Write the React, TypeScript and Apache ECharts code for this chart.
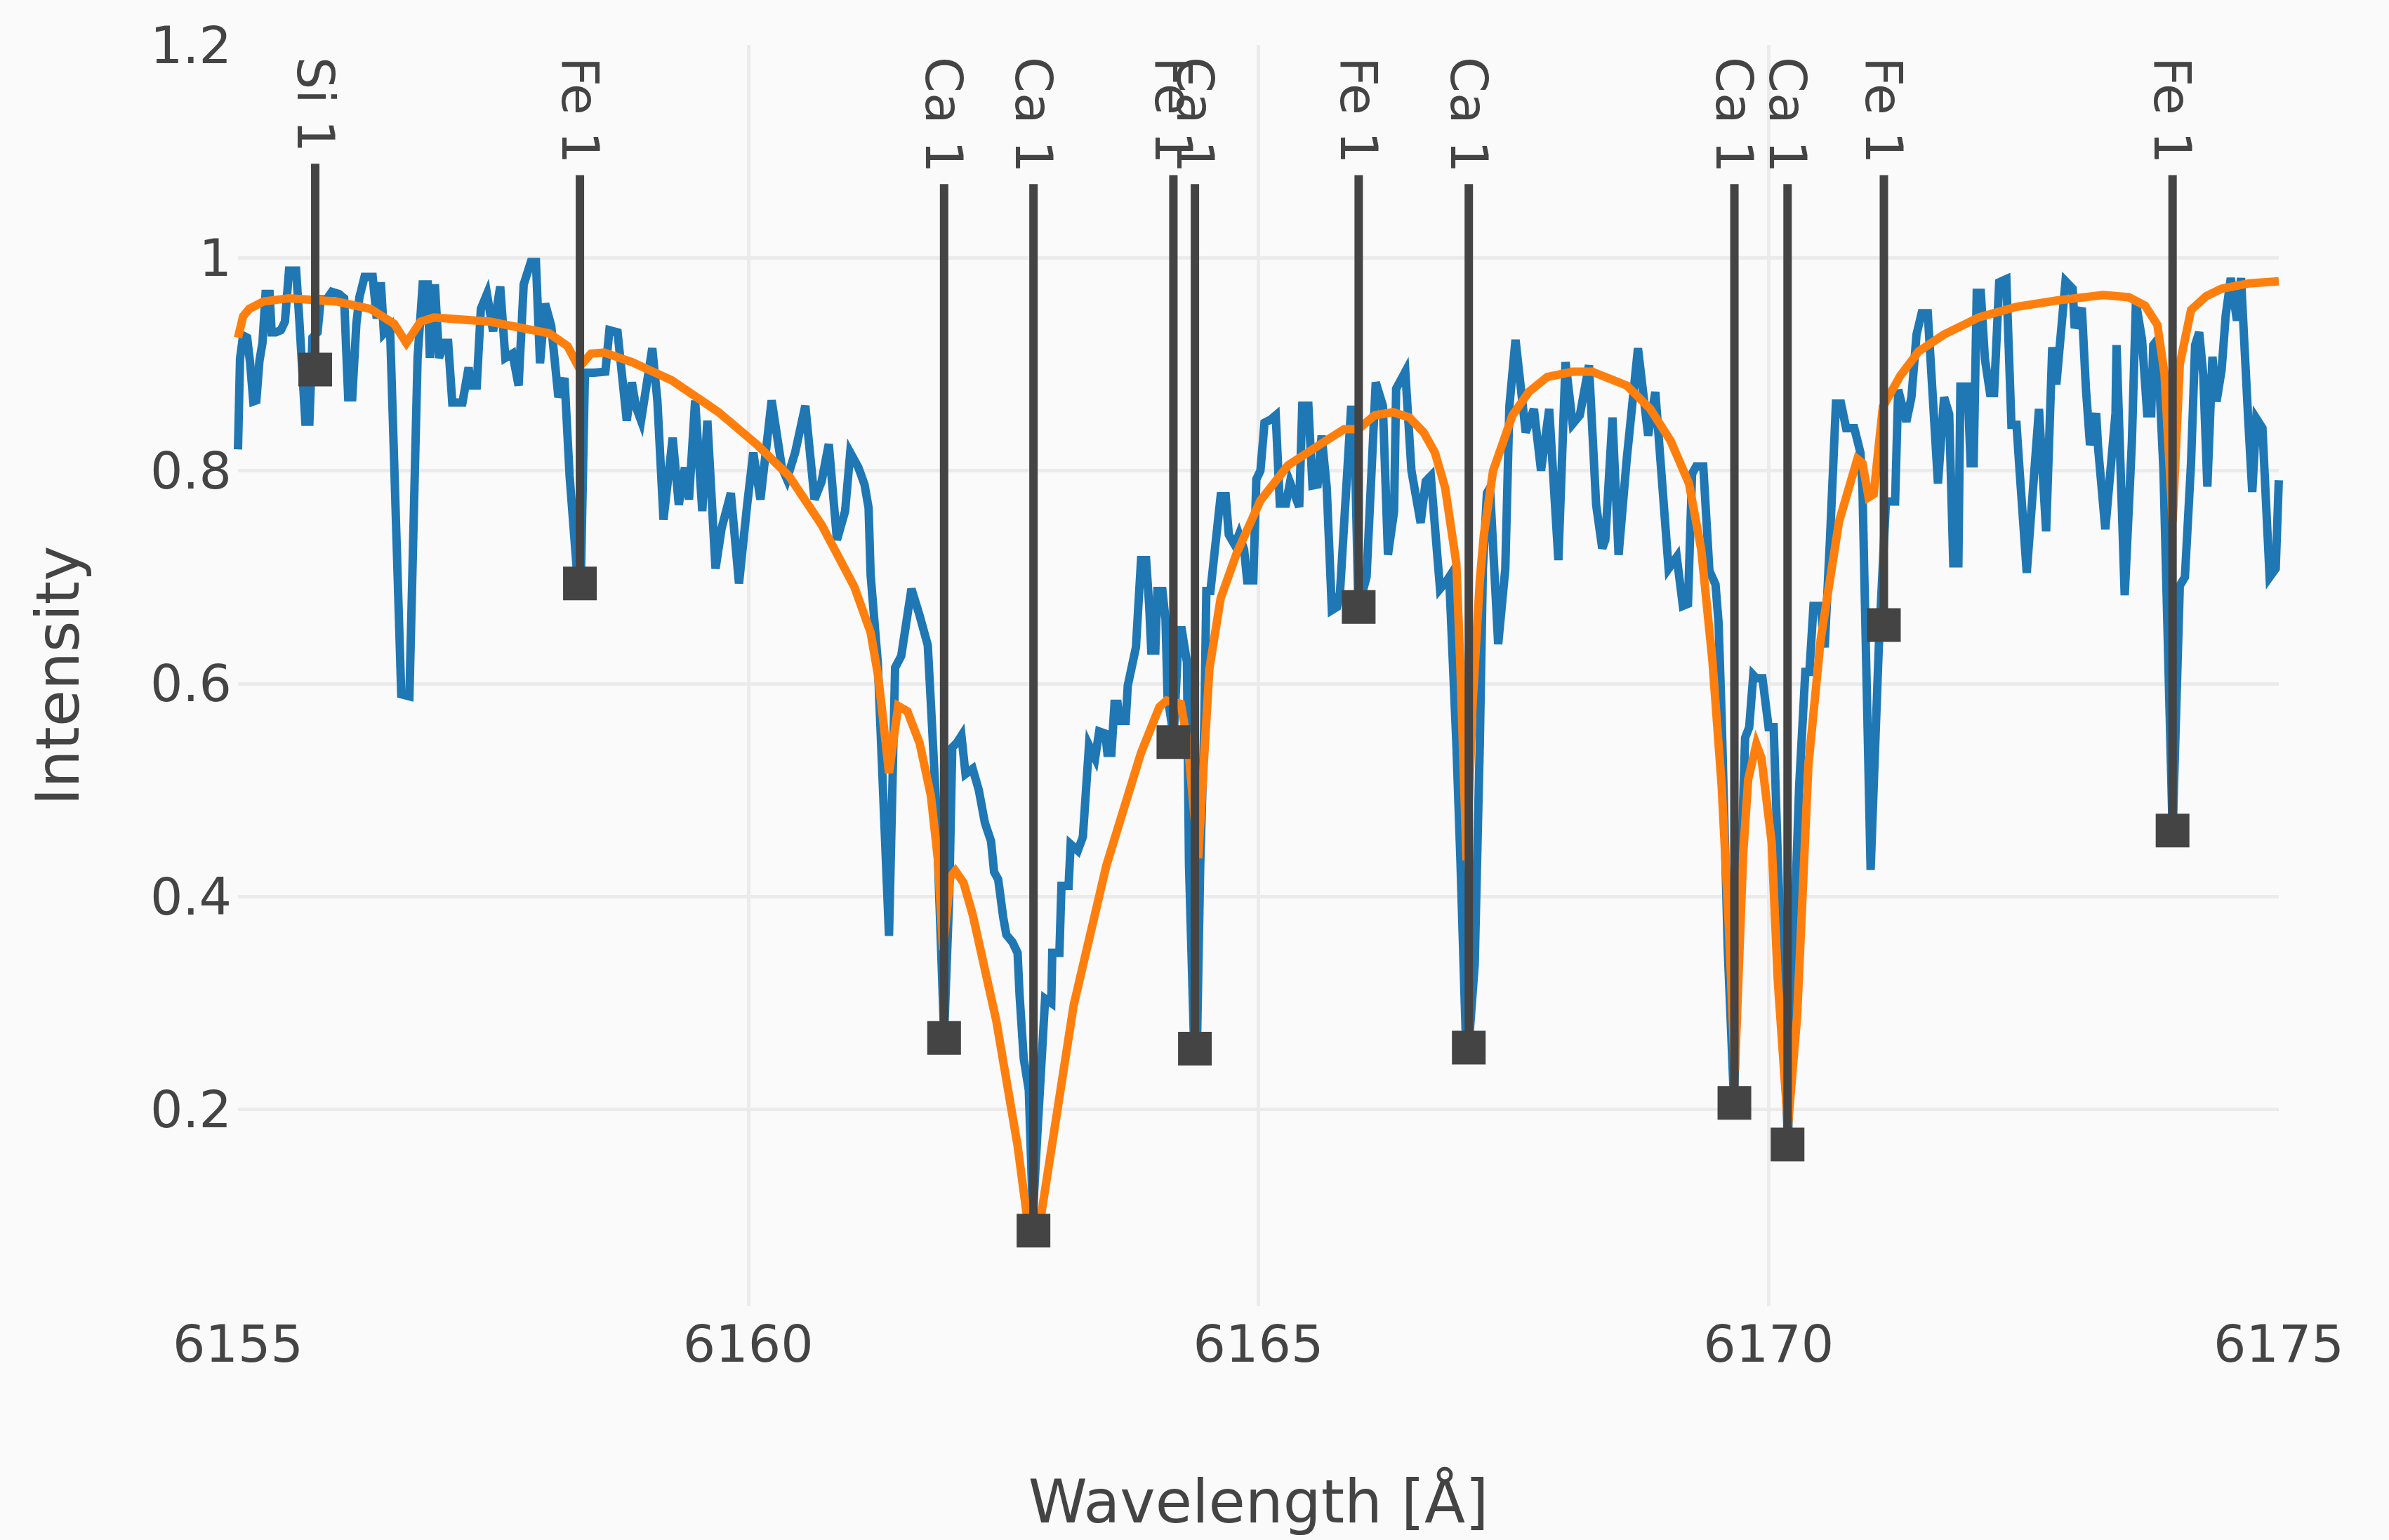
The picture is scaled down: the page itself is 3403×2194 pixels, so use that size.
import React, { useEffect, useRef } from "react";
import * as echarts from "echarts";

// Observed spectrum (wavelength in Å, normalised intensity)
const observedSpectrum: [number, number][] = [
  [6155.00,0.82],[6155.02,0.905],[6155.05,0.927],[6155.09,0.925],[6155.12,0.90],[6155.15,0.865],[6155.18,0.866],[6155.21,0.903],[6155.24,0.92],[6155.27,0.966],[6155.31,0.966],[6155.33,0.93],[6155.37,0.93],[6155.42,0.932],[6155.46,0.94],[6155.50,0.988],[6155.57,0.988],[6155.60,0.943],[6155.66,0.846],[6155.70,0.846],[6155.73,0.925],[6155.78,0.93],[6155.81,0.961],[6155.87,0.961],[6155.92,0.968],[6155.99,0.966],[6156.04,0.962],[6156.08,0.869],[6156.12,0.869],[6156.16,0.938],[6156.19,0.963],[6156.24,0.982],[6156.32,0.982],[6156.36,0.943],[6156.40,0.977],[6156.43,0.929],[6156.49,0.935],[6156.60,0.59],[6156.68,0.588],[6156.76,0.906],[6156.81,0.975],[6156.86,0.975],[6156.88,0.906],[6156.93,0.975],[6156.97,0.906],[6157.02,0.92],[6157.06,0.92],[6157.10,0.864],[6157.20,0.864],[6157.26,0.897],[6157.28,0.88],[6157.34,0.88],[6157.38,0.952],[6157.44,0.966],[6157.50,0.931],[6157.57,0.973],[6157.62,0.906],[6157.69,0.91],[6157.75,0.88],[6157.80,0.975],[6157.87,0.996],[6157.92,0.996],[6157.96,0.901],[6158.01,0.957],[6158.07,0.936],[6158.14,0.869],[6158.20,0.887],[6158.22,0.85],[6158.25,0.795],[6158.33,0.695],[6158.36,0.695],[6158.40,0.892],[6158.49,0.892],
  [6158.60,0.893],[6158.64,0.932],[6158.72,0.93],[6158.81,0.847],[6158.86,0.883],[6158.90,0.86],[6158.95,0.847],[6159.06,0.915],[6159.11,0.866],[6159.17,0.754],[6159.26,0.831],[6159.32,0.768],[6159.38,0.803],[6159.42,0.773],[6159.48,0.866],[6159.55,0.762],[6159.60,0.847],[6159.68,0.708],[6159.74,0.746],[6159.83,0.779],[6159.91,0.694],[6159.99,0.768],[6160.05,0.817],[6160.12,0.773],[6160.23,0.866],[6160.33,0.803],[6160.38,0.792],[6160.46,0.817],[6160.56,0.861],[6160.65,0.773],[6160.72,0.79],[6160.79,0.825],[6160.87,0.735],[6160.95,0.762],[6161.00,0.817],[6161.08,0.803],[6161.14,0.787],[6161.18,0.765],[6161.20,0.702],[6161.27,0.62],[6161.38,0.363],[6161.44,0.615],[6161.50,0.626],[6161.60,0.689],[6161.68,0.664],[6161.76,0.636],[6161.79,0.582],[6161.84,0.489],[6161.92,0.27],
  [6161.97,0.40],[6162.00,0.54],[6162.05,0.545],[6162.09,0.551],[6162.13,0.515],[6162.20,0.52],[6162.26,0.50],[6162.32,0.469],[6162.38,0.452],[6162.41,0.423],[6162.45,0.416],[6162.50,0.38],[6162.53,0.364],[6162.59,0.357],[6162.64,0.347],[6162.66,0.307],[6162.70,0.248],[6162.75,0.218],[6162.79,0.10],[6162.83,0.17],[6162.91,0.304],[6162.97,0.30],[6162.98,0.347],[6163.05,0.347],[6163.07,0.41],[6163.14,0.41],[6163.16,0.449],[6163.23,0.443],[6163.28,0.456],[6163.31,0.499],[6163.34,0.542],[6163.40,0.53],[6163.44,0.555],[6163.50,0.553],[6163.52,0.535],[6163.56,0.535],[6163.59,0.581],[6163.62,0.581],[6163.64,0.565],[6163.70,0.565],[6163.72,0.598],[6163.80,0.634],[6163.85,0.716],[6163.90,0.716],[6163.93,0.673],[6163.95,0.631],[6163.99,0.631],[6164.01,0.687],[6164.06,0.687],[6164.09,0.66],[6164.11,0.588],[6164.17,0.55],[6164.22,0.65],[6164.25,0.65],[6164.30,0.62],[6164.32,0.43],[6164.37,0.26],[6164.40,0.27],[6164.43,0.43],[6164.47,0.561],[6164.49,0.687],[6164.53,0.687],[6164.63,0.776],[6164.68,0.776],[6164.71,0.74],[6164.77,0.73],[6164.81,0.74],[6164.86,0.726],[6164.89,0.697],[6164.95,0.697],[6164.98,0.792],[6165.02,0.80],[6165.06,0.845],[6165.12,0.848],[6165.17,0.852],[6165.21,0.769],[6165.27,0.769],[6165.31,0.789],[6165.40,0.766],[6165.43,0.861],[6165.49,0.861],[6165.53,0.786],[6165.58,0.787],
  [6165.62,0.833],[6165.67,0.784],[6165.72,0.669],[6165.77,0.672],[6165.80,0.686],[6165.91,0.861],[6165.95,0.80],[6165.98,0.672],[6166.06,0.70],[6166.15,0.883],[6166.22,0.861],[6166.27,0.721],[6166.33,0.762],[6166.35,0.877],[6166.44,0.893],[6166.50,0.80],[6166.59,0.751],[6166.64,0.79],[6166.69,0.795],[6166.78,0.689],[6166.85,0.697],[6166.87,0.70],[6166.94,0.544],[6166.98,0.434],[6167.03,0.276],[6167.06,0.258],[6167.12,0.336],[6167.17,0.544],[6167.20,0.708],[6167.24,0.779],[6167.27,0.784],[6167.35,0.637],[6167.42,0.708],[6167.46,0.861],[6167.52,0.923],[6167.62,0.836],[6167.70,0.858],[6167.77,0.80],[6167.85,0.858],[6167.94,0.716],[6168.01,0.902],[6168.08,0.844],[6168.15,0.852],[6168.24,0.899],[6168.31,0.768],[6168.37,0.727],[6168.40,0.735],[6168.47,0.85],[6168.53,0.721],[6168.61,0.811],[6168.72,0.915],[6168.82,0.833],[6168.89,0.874],[6169.02,0.708],
  [6169.10,0.719],[6169.16,0.673],[6169.21,0.675],[6169.25,0.797],[6169.29,0.804],[6169.36,0.804],[6169.42,0.706],[6169.48,0.693],[6169.51,0.657],[6169.54,0.569],[6169.60,0.35],[6169.66,0.21],[6169.69,0.30],[6169.77,0.549],[6169.81,0.559],[6169.85,0.608],[6169.88,0.605],[6169.94,0.605],[6170.00,0.559],[6170.05,0.559],[6170.09,0.438],[6170.16,0.242],[6170.19,0.17],[6170.23,0.308],[6170.30,0.504],[6170.36,0.611],[6170.40,0.611],[6170.44,0.673],[6170.51,0.673],[6170.55,0.634],[6170.60,0.732],[6170.66,0.863],[6170.71,0.863],[6170.76,0.84],[6170.84,0.84],[6170.90,0.817],[6170.92,0.784],[6171.00,0.425],[6171.08,0.634],[6171.15,0.771],[6171.24,0.771],[6171.27,0.876],[6171.35,0.846],[6171.40,0.869],[6171.45,0.928],[6171.50,0.948],[6171.56,0.948],[6171.66,0.788],[6171.72,0.869],[6171.77,0.853],[6171.81,0.713],[6171.86,0.713],[6171.88,0.879],[6171.95,0.879],[6171.98,0.807],[6172.01,0.807],[6172.04,0.967],[6172.08,0.967],[6172.12,0.905],[6172.17,0.873],[6172.21,0.873],[6172.26,0.977],[6172.33,0.98],[6172.38,0.843],[6172.43,0.843],[6172.46,0.80],
  [6172.53,0.704],[6172.65,0.858],[6172.72,0.743],[6172.78,0.916],[6172.82,0.881],[6172.91,0.978],[6172.98,0.971],[6173.00,0.934],[6173.07,0.953],[6173.11,0.877],[6173.15,0.824],[6173.21,0.854],[6173.23,0.821],[6173.30,0.745],[6173.40,0.854],[6173.41,0.918],[6173.49,0.683],[6173.56,0.826],[6173.60,0.958],[6173.66,0.923],[6173.71,0.854],[6173.75,0.854],[6173.77,0.918],[6173.81,0.923],[6173.87,0.80],[6173.96,0.46],[6174.03,0.692],[6174.08,0.70],[6174.14,0.807],[6174.18,0.918],[6174.22,0.93],[6174.26,0.89],[6174.30,0.785],[6174.35,0.907],[6174.39,0.865],[6174.44,0.895],[6174.48,0.946],[6174.53,0.981],[6174.59,0.941],[6174.63,0.981],[6174.70,0.849],[6174.74,0.78],[6174.78,0.849],[6174.84,0.84],[6174.91,0.70],[6174.97,0.708],[6175.00,0.791],
];

// Synthetic model spectrum
const modelSpectrum: [number, number][] = [
  [6155.00,0.925],[6155.05,0.945],[6155.11,0.952],[6155.25,0.959],[6155.50,0.962],[6155.96,0.959],[6156.30,0.952],[6156.53,0.938],[6156.65,0.92],[6156.79,0.94],[6156.92,0.944],[6157.47,0.94],[6158.05,0.929],[6158.23,0.917],[6158.34,0.897],[6158.46,0.91],[6158.59,0.911],[6158.86,0.902],[6159.25,0.885],[6159.71,0.855],[6160.08,0.825],[6160.40,0.795],[6160.72,0.749],[6161.04,0.691],[6161.20,0.648],[6161.27,0.609],[6161.31,0.577],[6161.38,0.516],[6161.47,0.579],[6161.56,0.574],[6161.68,0.544],[6161.79,0.495],[6161.86,0.434],[6161.91,0.35],[6161.98,0.418],[6162.03,0.424],[6162.11,0.413],[6162.20,0.383],[6162.43,0.284],[6162.64,0.166],[6162.77,0.072],[6162.87,0.10],[6163.19,0.298],[6163.51,0.429],[6163.85,0.535],[6164.03,0.578],[6164.10,0.584],[6164.24,0.581],[6164.31,0.542],[6164.41,0.436],[6164.52,0.614],[6164.63,0.68],[6164.79,0.723],[6165.02,0.772],[6165.29,0.805],[6165.61,0.825],[6165.84,0.839],[6165.98,0.839],[6166.14,0.852],[6166.32,0.855],[6166.48,0.85],[6166.62,0.836],[6166.73,0.817],[6166.83,0.784],[6166.94,0.713],[6166.98,0.615],[6167.04,0.434],[6167.10,0.582],[6167.17,0.697],[6167.21,0.74],[6167.30,0.80],[6167.49,0.852],[6167.65,0.874],[6167.83,0.888],[6168.08,0.893],[6168.27,0.893],[6168.61,0.88],[6168.84,0.858],[6169.04,0.828],[6169.22,0.788],[6169.34,0.726],[6169.45,0.621],[6169.54,0.504],[6169.61,0.373],[6169.67,0.236],[6169.75,0.438],[6169.80,0.51],[6169.88,0.543],[6169.93,0.53],[6170.03,0.451],[6170.09,0.321],[6170.19,0.184],[6170.28,0.288],[6170.39,0.523],[6170.51,0.641],[6170.69,0.752],[6170.87,0.811],[6170.92,0.807],[6170.98,0.775],[6171.03,0.778],[6171.12,0.86],[6171.29,0.889],[6171.47,0.912],[6171.72,0.928],[6172.06,0.944],[6172.43,0.954],[6172.83,0.96],[6173.28,0.965],[6173.53,0.963],[6173.69,0.955],[6173.81,0.937],[6173.88,0.891],[6173.96,0.752],[6174.03,0.90],[6174.14,0.951],[6174.29,0.964],[6174.44,0.971],[6174.71,0.976],[6175.00,0.978],
];

// Identified lines
const lineWavelengths = [6155.757, 6158.351, 6161.920, 6162.796, 6164.167, 6164.378, 6165.983, 6167.062, 6169.665, 6170.186, 6171.130, 6173.959];
const lineDepths = [0.895, 0.694, 0.267, 0.086, 0.545, 0.257, 0.672, 0.258, 0.206, 0.167, 0.655, 0.462];
const lineLabels = ["Si 1", "Fe 1", "Ca 1", "Ca 1", "Fe 1", "Ca 1", "Fe 1", "Ca 1", "Ca 1", "Ca 1", "Fe 1", "Fe 1"];

const FONT = '"DejaVu Sans", Verdana, sans-serif';
const TICK_SIZE = 73;
const TITLE_SIZE = 85;
const TEXT_COLOR = "#444444";

let measureCtx: CanvasRenderingContext2D | null = null;
function textWidth(s: string, size: number): number {
  if (!measureCtx) measureCtx = document.createElement("canvas").getContext("2d");
  if (!measureCtx) return s.length * size * 0.55;
  measureCtx.font = `${size}px ${FONT}`;
  return measureCtx.measureText(s).width;
}

export default function App() {
  const ref = useRef<HTMLDivElement>(null);

  useEffect(() => {
    if (!ref.current) return;
    const chart = echarts.init(ref.current, undefined, { renderer: "svg" });

    const lineData = lineWavelengths.map((w, i) => [w, lineDepths[i]]);

    chart.setOption({
      animation: false,
      backgroundColor: "#fafafa",
      grid: { left: 339, right: 157, top: 64, bottom: 333, containLabel: false },
      xAxis: {
        type: "value",
        min: 6155,
        max: 6175,
        interval: 5,
        name: "Wavelength [Å]",
        nameLocation: "middle",
        nameGap: 236,
        nameTextStyle: { fontFamily: FONT, fontSize: TITLE_SIZE, color: TEXT_COLOR },
        axisLine: { show: false },
        axisTick: { show: false },
        axisLabel: {
          fontFamily: FONT,
          fontSize: TICK_SIZE,
          color: TEXT_COLOR,
          margin: 17,
          formatter: (v: number) => String(v),
        },
        splitLine: { show: true, showMinLine: false, showMaxLine: false, lineStyle: { color: "#ebebeb", width: 5 } },
      },
      yAxis: {
        type: "value",
        min: 0.015,
        max: 1.2,
        name: "Intensity",
        nameLocation: "middle",
        nameGap: 214,
        nameTextStyle: { fontFamily: FONT, fontSize: TITLE_SIZE, color: TEXT_COLOR },
        axisLine: { show: false },
        axisTick: { show: false },
        axisLabel: { fontFamily: FONT, fontSize: TICK_SIZE, color: TEXT_COLOR, margin: 9, showMinLabel: false },
        splitLine: { show: true, showMinLine: false, showMaxLine: false, lineStyle: { color: "#ebebeb", width: 5 } },
      },
      series: [
        {
          name: "Observed",
          type: "line",
          data: observedSpectrum,
          showSymbol: false,
          symbol: "none",
          lineStyle: { color: "#1f77b4", width: 12, join: "miter", miterLimit: 4 },
          z: 2,
        },
        {
          name: "Model",
          type: "line",
          data: modelSpectrum,
          showSymbol: false,
          symbol: "none",
          lineStyle: { color: "#ff7f0e", width: 12, join: "miter", miterLimit: 4 },
          z: 3,
        },
        {
          name: "Lines",
          type: "custom",
          z: 10,
          clip: false,
          encode: { x: 0, y: 1 },
          data: lineData,
          renderItem: (params: any, api: any) => {
            const idx = params.dataIndex;
            const label = lineLabels[idx];
            const p = api.coord([api.value(0), api.value(1)]);
            const gridTop = params.coordSys.y;
            const textTop = gridTop + 17;
            const w = textWidth(label, TICK_SIZE);
            const lineTop = textTop + w + 16;
            return {
              type: "group",
              children: [
                {
                  type: "line",
                  shape: { x1: p[0], y1: lineTop, x2: p[0], y2: p[1] },
                  style: { stroke: TEXT_COLOR, lineWidth: 12 },
                },
                {
                  type: "rect",
                  shape: { x: p[0] - 24, y: p[1] - 24, width: 48, height: 48 },
                  style: { fill: TEXT_COLOR },
                },
                {
                  type: "text",
                  x: p[0],
                  y: textTop,
                  rotation: -Math.PI / 2,
                  style: {
                    text: label,
                    fontFamily: FONT,
                    fontSize: TICK_SIZE,
                    fill: TEXT_COLOR,
                    align: "left",
                    verticalAlign: "middle",
                  },
                },
              ],
            };
          },
        },
      ],
    });

    return () => chart.dispose();
  }, []);

  return (
    <div
      ref={ref}
      style={{ position: "fixed", left: 0, top: 0, width: "3403px", height: "2194px", background: "#fafafa" }}
    />
  );
}
